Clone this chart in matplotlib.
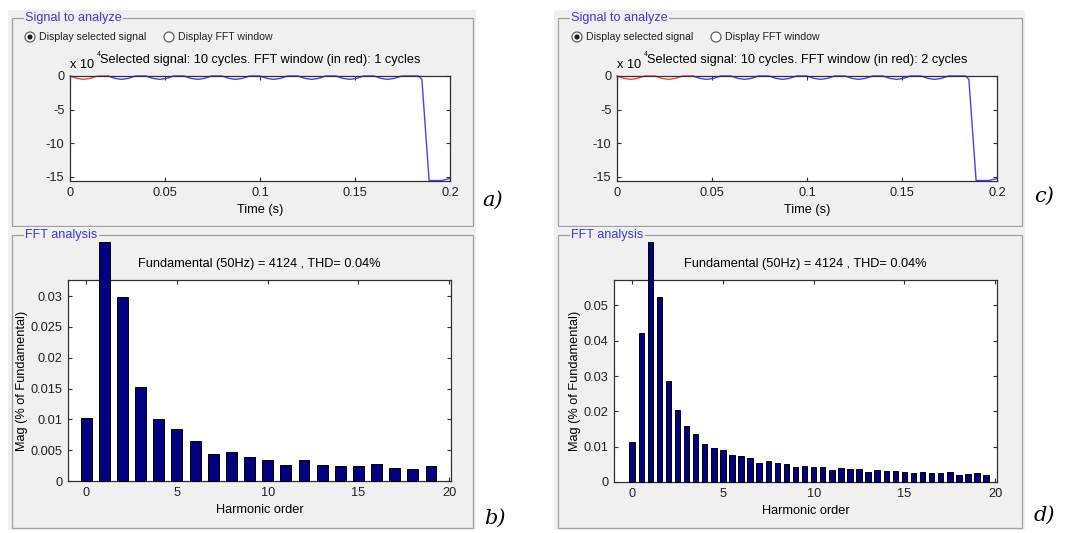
import matplotlib
matplotlib.use("Agg")
import matplotlib.pyplot as plt
from matplotlib.patches import Rectangle, Circle

W, H = 1068, 533
plt.rcParams["font.family"] = ["Liberation Sans", "DejaVu Sans"]
plt.rcParams["axes.unicode_minus"] = False

# time signal (x 10^4), one list for the whole 10-cycle record
sig_t = [0.000, 0.0036, 0.0072, 0.0108, 0.0145,
         0.020, 0.0236, 0.0272, 0.0308, 0.0345,
         0.040, 0.0436, 0.0472, 0.0508, 0.0545,
         0.060, 0.0636, 0.0672, 0.0708, 0.0745,
         0.080, 0.0836, 0.0872, 0.0908, 0.0945,
         0.100, 0.1036, 0.1072, 0.1108, 0.1145,
         0.120, 0.1236, 0.1272, 0.1308, 0.1345,
         0.140, 0.1436, 0.1472, 0.1508, 0.1545,
         0.160, 0.1636, 0.1672, 0.1708, 0.1745,
         0.180, 0.1835, 0.1852, 0.189, 0.1955, 0.200]
sig_v = [0, -0.35, -0.5, -0.35, 0,
         0, -0.35, -0.5, -0.35, 0,
         0, -0.35, -0.5, -0.35, 0,
         0, -0.35, -0.5, -0.35, 0,
         0, -0.35, -0.5, -0.35, 0,
         0, -0.35, -0.5, -0.35, 0,
         0, -0.35, -0.5, -0.35, 0,
         0, -0.35, -0.5, -0.35, 0,
         0, -0.35, -0.5, -0.35, 0,
         0, 0, -0.5, -15.6, -15.6, -15.3]

# FFT window lengths (cycles) for the two cases
win_cycles = [1, 2]

# harmonic spectra
harm_1 = [0, 1, 2, 3, 4, 5, 6, 7, 8, 9, 10, 11, 12, 13, 14, 15, 16, 17, 18, 19]
mag_1 = [0.0102, 0.0388, 0.0299, 0.0152, 0.0100, 0.0085, 0.0065, 0.0044,
         0.0047, 0.0039, 0.0034, 0.0026, 0.0034, 0.0026, 0.0024, 0.0024,
         0.0028, 0.0021, 0.0019, 0.0024]

harm_2 = [0, 0.5, 1, 1.5, 2, 2.5, 3, 3.5, 4, 4.5, 5, 5.5, 6, 6.5, 7, 7.5,
          8, 8.5, 9, 9.5, 10, 10.5, 11, 11.5, 12, 12.5, 13, 13.5, 14, 14.5,
          15, 15.5, 16, 16.5, 17, 17.5, 18, 18.5, 19, 19.5]
mag_2 = [0.0113, 0.0423, 0.0681, 0.0525, 0.0287, 0.0203, 0.0158, 0.0136,
         0.0109, 0.0095, 0.0091, 0.0076, 0.0073, 0.0069, 0.0053, 0.0060,
         0.0053, 0.0050, 0.0042, 0.0044, 0.0042, 0.0042, 0.0033, 0.0039,
         0.0036, 0.0036, 0.0028, 0.0033, 0.0031, 0.0031, 0.0028, 0.0026,
         0.0028, 0.0026, 0.0026, 0.0028, 0.0021, 0.0024, 0.0026, 0.0021]

fft_title = "Fundamental (50Hz) = 4124 , THD= 0.04%"
panel_blue = "#3a3ad6"
panel_gray = "#f0f0f0"
frame_gray = "#a0a0a0"
bar_blue = "#000080"
fs = 9.2


def px_axes(fig, l, t, r, b):
    return fig.add_axes([l / W, 1 - b / H, (r - l) / W, (b - t) / H])


def style_axes(ax):
    ax.set_facecolor("white")
    ax.tick_params(direction="in", top=True, right=True, length=3,
                   labelsize=fs, pad=4, color="#303030", labelcolor="#202020")
    for s in ax.spines.values():
        s.set_color("#303030")
        s.set_linewidth(0.9)


def panel(bg, l, t, r, b, title):
    bg.add_patch(Rectangle((l - 4, t - 8), r - l + 7, b - t + 10,
                           facecolor=panel_gray, edgecolor="none"))
    bg.add_patch(Rectangle((l, t), r - l, b - t, facecolor="none",
                           edgecolor=frame_gray, lw=0.9))
    bg.text(l + 13, t, title, color=panel_blue, fontsize=9.1, va="center",
            ha="left", bbox=dict(facecolor=panel_gray, edgecolor="none", pad=1))


def radio(bg, x, y, label, on):
    bg.add_patch(Circle((x, y), 5, facecolor="white", edgecolor="#606060", lw=0.9))
    if on:
        bg.add_patch(Circle((x, y), 2.6, facecolor="#202020", edgecolor="none"))
    bg.text(x + 9, y, label, fontsize=7.6, va="center", ha="left", color="#202020")


def signal_plot(ax, cycles):
    t_end = 0.02 * cycles
    red_t = [t for t in sig_t if t <= t_end]
    red_v = [v for t, v in zip(sig_t, sig_v) if t <= t_end]
    blue_t = [t for t in sig_t if t >= t_end]
    blue_v = [v for t, v in zip(sig_t, sig_v) if t >= t_end]
    ax.plot(blue_t, blue_v, color="#4040ff", lw=1.0, clip_on=False)
    ax.plot(red_t, red_v, color="#ff4040", lw=1.0, clip_on=False)
    ax.set_xlim(0, 0.2)
    ax.set_ylim(-15.67, 0)
    ax.set_xticks([0, 0.05, 0.1, 0.15, 0.2])
    ax.set_xticklabels(["0", "0.05", "0.1", "0.15", "0.2"])
    ax.set_yticks([0, -5, -10, -15])
    ax.set_xlabel("Time (s)", fontsize=fs, labelpad=4)
    style_axes(ax)
    ax.set_title("Selected signal: 10 cycles. FFT window (in red): %d cycles" % cycles,
                 fontsize=fs, pad=9)
    ax.text(0.0, 1.1, "x 10", transform=ax.transAxes, fontsize=fs,
            ha="left", va="center")
    ax.text(0.072, 1.2, "4", transform=ax.transAxes, fontsize=5,
            ha="left", va="center")


def fft_plot(ax, harm, mag, width, top, yticks, ylabels):
    ax.bar(harm, mag, width=width, color=bar_blue, edgecolor="black",
           linewidth=0.7, clip_on=False, zorder=3)
    ax.set_xlim(-1, 20.1)
    ax.set_ylim(0, top)
    ax.set_xticks([0, 5, 10, 15, 20])
    ax.set_yticks(yticks)
    ax.set_yticklabels(ylabels)
    ax.set_xlabel("Harmonic order", fontsize=fs, labelpad=4)
    ax.set_ylabel("Mag (% of Fundamental)", fontsize=fs, labelpad=2)
    style_axes(ax)
    ax.set_title(fft_title, fontsize=fs, pad=9)


fig = plt.figure(figsize=(W / 100, H / 100), dpi=100)
fig.patch.set_facecolor("white")
bg = fig.add_axes([0, 0, 1, 1])
bg.set_xlim(0, W)
bg.set_ylim(H, 0)
bg.axis("off")

panel(bg, 12, 18, 473, 226, "Signal to analyze")
panel(bg, 12, 235, 473, 528, "FFT analysis")
panel(bg, 558, 18, 1022, 226, "Signal to analyze")
panel(bg, 558, 235, 1022, 528, "FFT analysis")

radio(bg, 30, 37, "Display selected signal", True)
radio(bg, 169, 37, "Display FFT window", False)
radio(bg, 577, 37, "Display selected signal", True)
radio(bg, 716, 37, "Display FFT window", False)

for x, y, lab in [(482, 200, "a)"), (484, 518, "b)"),
                  (1034, 196, "c)"), (1034, 515, "d)")]:
    bg.text(x, y, lab, fontsize=15, family="DejaVu Serif", style="italic",
            ha="left", va="center")

ax_a = px_axes(fig, 70, 76, 450, 181)
signal_plot(ax_a, win_cycles[0])
ax_c = px_axes(fig, 617, 76, 997, 181)
signal_plot(ax_c, win_cycles[1])

ax_b = px_axes(fig, 68, 280, 451, 481)
fft_plot(ax_b, harm_1, mag_1, 0.6, 0.0326,
         [0, 0.005, 0.01, 0.015, 0.02, 0.025, 0.03],
         ["0", "0.005", "0.01", "0.015", "0.02", "0.025", "0.03"])
ax_d = px_axes(fig, 614, 280, 997, 482)
fft_plot(ax_d, harm_2, mag_2, 0.3, 0.0572,
         [0, 0.01, 0.02, 0.03, 0.04, 0.05],
         ["0", "0.01", "0.02", "0.03", "0.04", "0.05"])

fig.savefig("out.png", dpi=100)
